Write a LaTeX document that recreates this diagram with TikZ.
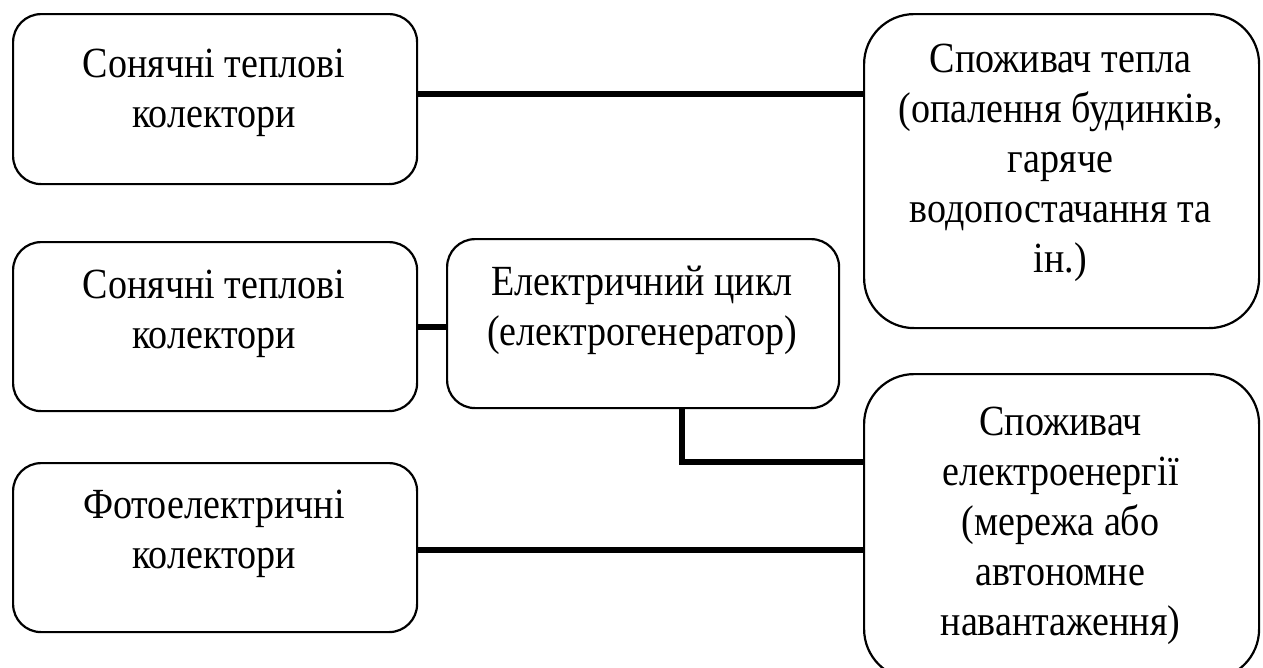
\documentclass[tikz,border=0pt]{standalone}
\usepackage{fontspec}
\setmainfont{Liberation Serif}
\newfontfamily\tallfont[FakeStretch=0.885]{Liberation Serif}
\begin{document}
\begin{tikzpicture}[x=1pt,y=-1pt,
  box/.style={draw, line width=2.2pt, rounded corners=28pt, inner sep=0pt, anchor=north west},
  bigbox/.style={box, rounded corners=50pt},
  link/.style={line width=5.5pt},
  txt/.style={anchor=base, inner sep=0pt, font=\tallfont\fontsize{43}{50}\selectfont}]
\clip (0,0) rectangle (1263,667);
% boxes
\node[box, minimum width=404pt, minimum height=170pt] (s1) at (12,13) {};
\node[box, minimum width=404pt, minimum height=169pt] (s2) at (12,241) {};
\node[box, minimum width=404pt, minimum height=169pt] (s3) at (12,462) {};
\node[box, minimum width=392pt, minimum height=169pt] (el) at (446,238) {};
\node[bigbox, minimum width=395pt, minimum height=314pt] (hc) at (863,13) {};
\node[bigbox, minimum width=395pt, minimum height=305pt] (ec) at (863,373) {};
% texts
\node[txt] (t1) at (214,77) {\parbox[t]{400pt}{\centering Сонячні теплові\\колектори}};
\node[txt] (t2) at (214,298) {\parbox[t]{400pt}{\centering Сонячні теплові\\колектори}};
\node[txt] (t3) at (214,518) {\parbox[t]{400pt}{\centering Фотоелектричні\\колектори}};
\node[txt] (t4) at (642,295) {\parbox[t]{390pt}{\centering Електричний цикл\\(електрогенератор)}};
\node[txt] (t5) at (1060.5,72) {\parbox[t]{395pt}{\centering Споживач тепла\\(опалення будинків,\\гаряче\\водопостачання та\\ін.)}};
\node[txt] (t6) at (1060.5,435) {\parbox[t]{395pt}{\centering Споживач\\електроенергії\\(мережа або\\автономне\\навантаження)}};
% connectors
\draw[link] (s1.east |- 0,94) -- (hc.west |- 0,94);
\draw[link] (s2.east |- 0,327) -- (el.west |- 0,327);
\draw[link] (el.south -| 682,0) -- (682,462) -- (ec.west |- 0,462);
\draw[link] (s3.east |- 0,550) -- (ec.west |- 0,550);
\end{tikzpicture}
\end{document}
